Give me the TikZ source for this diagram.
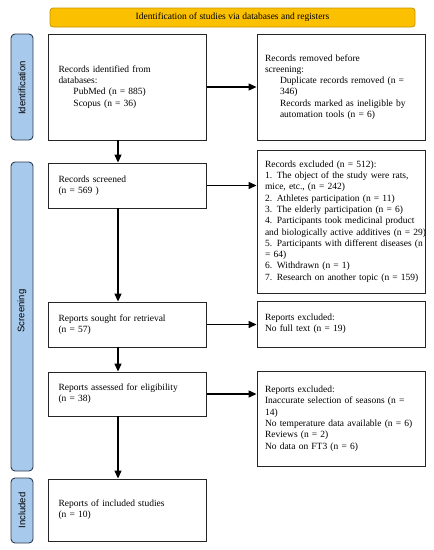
\documentclass[tikz,border=0pt]{standalone}
\usepackage{fontspec}
\setmainfont{Liberation Serif}
\newfontfamily\sidefont{Liberation Sans}
\usetikzlibrary{arrows.meta}
\definecolor{titlefill}{HTML}{FBC000}
\definecolor{titledraw}{HTML}{C99300}
\definecolor{sidefill}{HTML}{A7C9EC}
\definecolor{sidedraw}{HTML}{2E3B4E}
\definecolor{boxdraw}{HTML}{262626}
\tikzset{
  txt/.style={font=\fontsize{9.5}{11.3}\selectfont},
  lbox/.style={txt, draw=boxdraw, line width=0.9pt, align=left,
    inner xsep=10pt, inner ysep=2pt, text width=138pt},
  rbox/.style={txt, draw=boxdraw, line width=0.9pt, align=left,
    inner xsep=8pt, inner ysep=2pt, text width=152.5pt},
  sidebar/.style={draw=sidedraw, fill=sidefill, line width=0.9pt,
    rounded corners=4pt, minimum width=22pt, inner sep=0pt},
  sidelabel/.style={rotate=90, font=\sidefont\fontsize{9.5}{11}\selectfont},
  titlebar/.style={draw=titledraw, fill=titlefill, line width=0.8pt,
    rounded corners=3pt, minimum width=365pt, minimum height=19pt, inner sep=0pt, txt},
  flow/.style={line width=1.3pt, -{Triangle[length=8pt,width=7pt]}},
}
\begin{document}
\begin{tikzpicture}[x=1pt,y=-1pt]
\useasboundingbox (0,0) rectangle (434,550);

\node[titlebar] (title) at (232.5,17.5) {Identification of studies via databases and registers};

\node[sidebar, minimum height=106pt] (s1) at (22,87) {};
\node[sidelabel] (s1t) at (22,88) {Identification};
\node[sidebar, minimum height=309pt] (s2) at (22,316.5) {};
\node[sidelabel] (s2t) at (22,311) {Screening};
\node[sidebar, minimum height=65pt] (s3) at (22,510.5) {};
\node[sidelabel] (s3t) at (22,510.5) {Included};

\node[lbox, minimum height=106pt] (b1) at (127.5,87) {Records identified from\\ databases:\\ \hspace*{15pt}PubMed (n = 885)\\ \hspace*{15pt}Scopus (n = 36)};
\node[rbox, minimum height=106pt] (r1) at (341.25,87) {Records removed before\\ screening:\\ \hspace*{15pt}Duplicate records removed (n =\\ \hspace*{15pt}346)\\ \hspace*{15pt}Records marked as ineligible by\\ \hspace*{15pt}automation tools (n = 6)};

\node[lbox, minimum height=45pt] (b2) at (127.5,185.5) {Records screened\\ (n = 569 )};
\node[rbox, minimum height=143pt] (r2) at (341.25,221.5) {Records excluded (n = 512):\\ 1. The object of the study were rats,\\ mice, etc., (n = 242)\\ 2. Athletes participation (n = 11)\\ 3. The elderly participation (n = 6)\\ 4. Participants took medicinal product\\ \mbox{and biologically active additives (n = 29)}\\ \mbox{5. Participants with different diseases (n}\\ = 64)\\ 6. Withdrawn (n = 1)\\ \mbox{7. Research on another topic (n = 159)}};

\node[lbox, minimum height=45pt] (b3) at (127.5,324.5) {Reports sought for retrieval\\ (n = 57)};
\node[rbox, minimum height=46pt] (r3) at (341.25,324) {Reports excluded:\\ No full text (n = 19)};

\node[lbox, minimum height=44pt] (b4) at (127.5,394) {Reports assessed for eligibility\\ (n = 38)};
\node[rbox, minimum height=95pt] (r4) at (341.25,418.5) {Reports excluded:\\ \mbox{Inaccurate selection of seasons (n =}\\ 14)\\ \mbox{No temperature data available (n = 6)}\\ Reviews (n = 2)\\ No data on FT3 (n = 6)};

\node[lbox, minimum height=62pt] (b5) at (127.5,510) {Reports of included studies\\ (n = 10)};

\draw[flow] (b1.east) -- (b1.east -| r1.west);
\draw[flow] (b2.east) -- (b2.east -| r2.west);
\draw[flow] (b3.east) -- (b3.east -| r3.west);
\draw[flow] (b4.east) -- (b4.east -| r4.west);
\draw[flow] ([xshift=-9.5pt]b1.south) -- ([xshift=-9.5pt]b2.north);
\draw[flow] ([xshift=-9.5pt]b2.south) -- ([xshift=-9.5pt]b3.north);
\draw[flow] ([xshift=-9.5pt]b3.south) -- ([xshift=-9.5pt]b4.north);
\draw[flow] ([xshift=-9.5pt]b4.south) -- ([xshift=-9.5pt]b5.north);
\end{tikzpicture}
\end{document}
